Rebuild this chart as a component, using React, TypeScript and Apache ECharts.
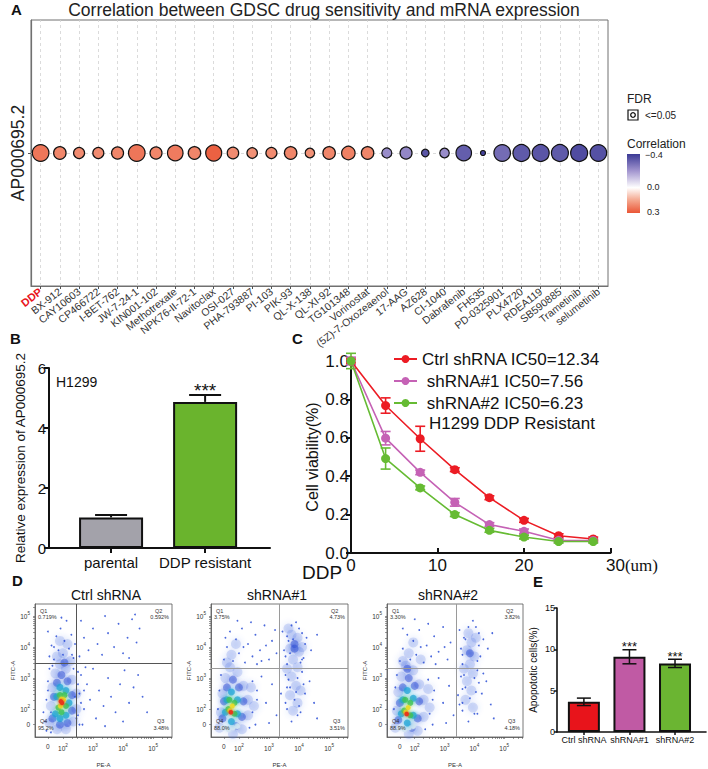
import React, { useEffect, useRef } from 'react';
import * as echarts from 'echarts';

const FONT = "'Liberation Sans', Arial, Helvetica, sans-serif";

// ---------------- Panel A : bubble correlation ----------------
const geneName = 'AP000695.2';
const drugs = ['DDP', 'BX-912', 'CAY10603', 'CP466722', 'I-BET-762', 'JW-7-24-1', 'KIN001-102', 'Methotrexate', 'NPK76-II-72-1', 'Navitoclax', 'OSI-027', 'PHA-793887', 'PI-103', 'PIK-93', 'QL-X-138', 'QL-XI-92', 'TG101348', 'Vorinostat', '(5Z)-7-Oxozeaenol', '17-AAG', 'AZ628', 'CI-1040', 'Dabrafenib', 'FH535', 'PD-0325901', 'PLX4720', 'RDEA119', 'SB590885', 'Trametinib', 'selumetinib'];
const correlation = [0.24, 0.21, 0.2, 0.2, 0.21, 0.24, 0.21, 0.23, 0.21, 0.28, 0.2, 0.19, 0.2, 0.21, 0.19, 0.21, 0.22, 0.21, -0.22, -0.23, -0.34, -0.22, -0.32, -0.38, -0.29, -0.33, -0.34, -0.33, -0.36, -0.35];
const negLog10FDR = [12.3, 8.6, 7.3, 7.3, 8.2, 12.3, 8.2, 11.4, 8.6, 11.8, 7.7, 6.8, 7.3, 8.6, 5.9, 8.6, 9.5, 8.6, 6.4, 8.2, 4.1, 5.9, 11.4, 1.8, 12.3, 12.7, 12.7, 12.7, 12.7, 12.3];
const corrTicks = ['\u22120.4', '0.0', '0.3'];

// ---------------- Panel B : relative expression ----------------
const bCategories = ['parental', 'DDP resistant'];
const bMeans = [1.02, 4.87];
const bErrors = [0.08, 0.23];
const bSignif = ['', '***'];

// ---------------- Panel C : viability curves ----------------
const ddpDose = [0, 4, 8, 12, 16, 20, 24, 28];
const ctrlViability = [1.0, 0.768, 0.595, 0.434, 0.288, 0.17, 0.09, 0.073];
const sh1Viability = [1.0, 0.598, 0.42, 0.264, 0.148, 0.113, 0.066, 0.065];
const sh2Viability = [1.0, 0.492, 0.339, 0.2, 0.118, 0.083, 0.06, 0.06];
const ctrlSD = [0.01, 0.04, 0.065, 0.01, 0.01, 0.01, 0.01, 0.01];
const sh1SD = [0.02, 0.035, 0.012, 0.02, 0.01, 0.012, 0.008, 0.008];
const sh2SD = [0.04, 0.055, 0.01, 0.01, 0.01, 0.01, 0.008, 0.008];
const cNames = ['Ctrl shRNA IC50=12.34', ' shRNA#1 IC50=7.56', ' shRNA#2 IC50=6.23'];

// ---------------- Panel D : flow cytometry (axis units = log10 decades) ----------------
const flowTitles = ['Ctrl shRNA', 'shRNA#1', 'shRNA#2'];
const quadPct = [
  ['0.719%', '0.592%', '3.48%', '95.2%'],
  ['3.75%', '4.73%', '3.51%', '88.0%'],
  ['3.30%', '3.82%', '4.18%', '88.9%'],
];
const gateX = [2.43, 3.35, 3.38];
const gateY = [3.48, 3.32, 3.32];
// [x, y, densityLevel]  (-1 pale, 0 haze .. 5 peak)
const flowCloud1 = [
  [1.55, 1.55, 0], [1.6, 2.1, 0], [1.65, 2.7, 0], [1.75, 3.15, 0], [1.9, 3.45, 0], [2.1, 3.3, 0], [2.3, 2.95, 0], [2.45, 2.5, 0], [2.45, 2.0, 0], [2.35, 1.6, 0], [2.1, 1.35, 0], [1.8, 1.35, 0], [2.0, 3.8, 0], [2.15, 4.1, 0], [1.9, 4.2, 0], [2.25, 3.55, 0], [1.8, 3.7, 0],
  [1.65, 1.7, 1], [1.7, 2.4, 1], [1.8, 2.85, 1], [1.95, 3.1, 1], [2.15, 2.9, 1], [2.3, 2.45, 1], [2.3, 1.95, 1], [2.15, 1.55, 1], [1.9, 1.5, 1], [2.05, 3.5, 1],
  [1.75, 1.85, 2], [1.8, 2.4, 2], [1.9, 2.7, 2], [2.1, 2.6, 2], [2.2, 2.2, 2], [2.1, 1.8, 2], [1.9, 1.7, 2],
  [1.85, 2.05, 3], [1.9, 2.45, 3], [2.05, 2.45, 3], [2.1, 2.1, 3], [1.95, 1.9, 3],
  [1.92, 2.1, 4], [2.02, 2.3, 4], [1.95, 2.32, 4],
  [1.97, 2.2, 5], [1.93, 2.25, 5],
];
const flowSparse1 = [
  [1.55, 3.7], [1.62, 4.05], [1.7, 3.6], [1.78, 4.35], [1.85, 3.9], [1.92, 4.6], [2.0, 3.75], [2.05, 4.2], [2.12, 4.85], [2.2, 3.95], [2.28, 4.4], [2.35, 3.65], [1.5, 4.5], [2.4, 4.1], [1.95, 4.95],
  [2.55, 3.7], [2.7, 4.3], [2.85, 3.9], [3.0, 4.6], [3.15, 4.1], [3.3, 3.75], [3.5, 4.45], [3.7, 4.0], [3.85, 4.75], [4.0, 3.8], [4.15, 4.3], [4.3, 4.9], [4.45, 4.15], [4.55, 4.6], [4.2, 3.65], [3.4, 5.0], [2.6, 4.85], [4.4, 5.05],
  [2.5, 1.8], [2.55, 2.5], [2.6, 3.1], [2.7, 2.0], [2.8, 2.8], [2.9, 2.3], [3.0, 3.3], [3.1, 1.7], [3.2, 2.6], [3.35, 2.1], [3.5, 3.0], [3.6, 2.4], [3.75, 1.9], [3.9, 2.8], [4.05, 3.25], [4.2, 2.2], [4.35, 2.7], [4.5, 3.1], [4.65, 2.4], [4.8, 1.9], [2.65, 1.5], [3.4, 1.45], [4.0, 1.6], [2.75, 3.35],
  [1.4, 1.6], [1.45, 2.3], [1.5, 2.9], [2.6, 2.2], [2.5, 3.2], [1.35, 1.9], [2.7, 2.6], [1.6, 1.25],
  [1.5, 2.6], [1.55, 3.3], [1.65, 3.4], [2.35, 3.3], [2.5, 2.8], [2.55, 1.5], [1.45, 1.3], [1.7, 4.0], [2.3, 3.75], [2.45, 1.7], [1.6, 1.9], [2.4, 2.4],
];
const flowCloud2 = [
  [1.35, 1.4, 0], [1.4, 1.9, 0], [1.45, 2.5, 0], [1.55, 3.0, 0], [1.7, 3.35, 0], [1.95, 3.2, 0], [2.15, 2.75, 0], [2.3, 2.3, 0], [2.3, 1.8, 0], [2.1, 1.35, 0], [1.8, 1.2, 0], [1.75, 3.75, 0], [1.9, 4.1, 0], [2.4, 2.7, 0], [2.5, 2.1, 0], [1.6, 3.5, 0],
  [1.45, 1.7, 1], [1.5, 2.25, 1], [1.6, 2.7, 1], [1.8, 2.95, 1], [2.0, 2.7, 1], [2.15, 2.25, 1], [2.1, 1.75, 1], [1.9, 1.45, 1],
  [1.55, 1.9, 2], [1.6, 2.3, 2], [1.75, 2.55, 2], [1.95, 2.3, 2], [1.95, 1.85, 2], [1.75, 1.6, 2],
  [1.65, 2.0, 3], [1.68, 2.3, 3], [1.85, 2.2, 3], [1.85, 1.85, 3],
  [1.7, 1.95, 4], [1.78, 2.1, 4],
  [1.73, 1.9, 5],
  [1.5, 1.4, -1], [1.65, 1.35, -1], [1.8, 1.4, -1], [1.95, 1.45, -1],
  [3.75, 4.4, 0], [3.85, 4.1, 1], [3.95, 4.3, 0], [3.7, 3.95, 0], [4.0, 3.85, 0], [3.8, 3.6, 0], [3.95, 3.35, 0], [3.75, 3.05, 0], [3.9, 2.75, 0], [3.7, 2.45, 0], [3.95, 2.2, 0], [3.8, 1.95, 0], [3.65, 4.6, 0], [4.1, 4.0, 0], [3.6, 3.3, 0], [4.05, 2.6, 0], [3.85, 3.95, 1],
];
const flowSparse2 = [
  [1.5, 3.6], [1.6, 4.0], [1.7, 4.5], [1.8, 3.55], [1.9, 4.25], [2.0, 3.8], [2.1, 4.6], [2.2, 3.5], [2.3, 4.1], [2.45, 3.7], [2.55, 4.4], [2.7, 3.9], [2.85, 4.7], [3.0, 3.6], [3.1, 4.2], [3.25, 3.8], [2.4, 4.8], [1.95, 4.85], [2.6, 3.45], [2.9, 4.05], [3.2, 4.55], [1.55, 4.3], [2.15, 4.0], [2.75, 3.55],
  [3.45, 4.5], [3.55, 3.7], [3.65, 4.2], [4.0, 4.6], [4.15, 3.65], [4.25, 4.3], [4.4, 3.9], [4.6, 4.4], [3.9, 4.8], [3.6, 3.45], [4.1, 4.45], [3.8, 4.25], [3.7, 3.8], [4.05, 3.5],
  [2.45, 1.9], [2.6, 2.6], [2.75, 3.05], [2.9, 2.2], [3.1, 2.8], [3.25, 1.8], [3.4, 2.5], [3.55, 3.1], [3.6, 2.0], [3.7, 2.7], [3.85, 2.3], [3.95, 3.0], [4.05, 1.9], [4.2, 2.5], [4.35, 2.9], [4.5, 2.2], [4.6, 1.7], [3.75, 1.6], [3.9, 2.55], [3.65, 2.95], [4.0, 2.1], [2.55, 1.5], [3.0, 1.55],
  [1.3, 2.0], [1.35, 2.6], [2.45, 2.9], [2.6, 2.3], [1.4, 3.1], [2.35, 1.4],
  [3.5, 3.9], [3.6, 2.7], [4.1, 3.2], [4.15, 2.8], [3.55, 2.2], [4.2, 4.1], [3.75, 4.7], [3.95, 1.8], [3.6, 4.35], [4.1, 3.6],
];
const flowCloud3 = [
  [1.35, 1.4, 0], [1.4, 1.95, 0], [1.45, 2.55, 0], [1.55, 3.05, 0], [1.7, 3.4, 0], [1.95, 3.25, 0], [2.15, 2.8, 0], [2.3, 2.3, 0], [2.3, 1.75, 0], [2.1, 1.3, 0], [1.8, 1.2, 0], [1.8, 3.8, 0], [1.95, 4.15, 0], [2.45, 2.65, 0], [2.5, 2.05, 0], [1.6, 3.55, 0], [2.2, 3.6, 0],
  [1.45, 1.65, 1], [1.5, 2.2, 1], [1.6, 2.7, 1], [1.8, 3.0, 1], [2.0, 2.75, 1], [2.15, 2.25, 1], [2.1, 1.7, 1], [1.9, 1.4, 1], [1.75, 3.3, 1],
  [1.55, 1.85, 2], [1.6, 2.3, 2], [1.75, 2.6, 2], [1.95, 2.35, 2], [1.95, 1.8, 2], [1.75, 1.55, 2],
  [1.65, 1.95, 3], [1.68, 2.3, 3], [1.85, 2.2, 3], [1.85, 1.8, 3],
  [1.7, 1.9, 4], [1.78, 2.05, 4],
  [1.73, 1.84, 5],
  [1.5, 1.4, -1], [1.65, 1.35, -1], [1.8, 1.4, -1], [1.95, 1.45, -1],
  [3.8, 4.45, 0], [3.9, 4.15, 0], [3.75, 3.9, 0], [4.0, 3.7, 0], [3.85, 3.45, 0], [3.95, 3.15, 0], [3.75, 2.9, 0], [3.9, 2.6, 0], [3.7, 2.3, 0], [3.95, 2.05, 0], [3.85, 3.8, 1], [4.05, 4.3, 0], [3.65, 3.3, 0],
];
const flowSparse3 = [
  [1.5, 3.55], [1.6, 3.95], [1.75, 4.4], [1.85, 3.6], [1.95, 4.2], [2.05, 3.75], [2.15, 4.55], [2.3, 3.5], [2.4, 4.05], [2.55, 3.7], [2.65, 4.35], [2.8, 3.85], [2.95, 4.65], [3.1, 3.6], [3.2, 4.15], [2.45, 4.75], [2.0, 4.9], [2.7, 3.45], [3.0, 4.0], [1.6, 4.6], [2.2, 4.0],
  [3.5, 4.55], [3.6, 3.75], [3.7, 4.25], [4.05, 4.65], [4.2, 3.7], [4.3, 4.25], [4.45, 3.95], [4.6, 4.45], [3.95, 4.85], [3.6, 3.45], [4.15, 4.45],
  [2.5, 1.85], [2.65, 2.6], [2.8, 3.0], [2.95, 2.2], [3.15, 2.75], [3.3, 1.8], [3.45, 2.45], [3.55, 3.05], [3.6, 1.95], [3.7, 2.7], [3.85, 2.35], [4.0, 3.0], [4.1, 1.85], [4.25, 2.5], [4.4, 2.9], [4.55, 2.15], [4.65, 1.7], [3.8, 1.6], [4.05, 2.55], [3.65, 3.1], [2.6, 1.5], [3.05, 1.55], [4.3, 3.15], [3.5, 2.15],
  [1.3, 2.0], [1.35, 2.7], [2.45, 2.95], [2.6, 2.3], [1.4, 3.1], [2.35, 1.35],
  [3.55, 3.95], [3.6, 2.65], [4.1, 3.25], [4.15, 2.85], [3.6, 2.2], [4.15, 4.05], [3.8, 4.65], [4.0, 1.85], [3.65, 4.3], [4.1, 3.55],
];
const flowClouds = [flowCloud1, flowCloud2, flowCloud3];
const flowSparse = [flowSparse1, flowSparse2, flowSparse3];
const flowLabelValues = [1.5, 2, 3, 4, 5];

// ---------------- Panel E : apoptosis ----------------
const eCategories = ['Ctrl shRNA', 'shRNA#1', 'shRNA#2'];
const eMeans = [3.65, 9.1, 8.3];
const eErrors = [0.45, 0.85, 0.5];
const eSignif = ['', '***', '***'];

// ---------------- helpers ----------------
function hexToRgb(h: string) {
  const n = parseInt(h.slice(1), 16);
  return [(n >> 16) & 255, (n >> 8) & 255, n & 255];
}
function mixHex(a: string, b: string, t: number) {
  const A = hexToRgb(a), B = hexToRgb(b);
  const c = A.map((v, i) => Math.round(v + (B[i] - v) * t));
  return `rgb(${c[0]},${c[1]},${c[2]})`;
}
const NEG_MID = '#a295cf', NEG_END = '#3b3a95', POS_MID = '#f4a68d', POS_END = '#ea5636';
function corrColor(v: number) {
  if (v < 0) {
    const t = Math.min(1, -v / 0.4);
    return t < 0.5 ? mixHex('#ffffff', NEG_MID, t / 0.5) : mixHex(NEG_MID, NEG_END, (t - 0.5) / 0.5);
  }
  const t = Math.min(1, v / 0.3);
  return t < 0.5 ? mixHex('#ffffff', POS_MID, t / 0.5) : mixHex(POS_MID, POS_END, (t - 0.5) / 0.5);
}
const bubbleSize = (v: number) => 3 + 1.1 * v;

const CLOUD_STYLE: Record<string, { c: string; s: number; o: number; b: number }> = {
  '-1': { c: '#d3e5f1', s: 5.5, o: 0.95, b: 3 },
  '0': { c: '#4a70e2', s: 10, o: 0.2, b: 6 },
  '1': { c: '#2549d2', s: 8, o: 0.45, b: 5 },
  '2': { c: '#18a3d6', s: 7, o: 0.7, b: 5 },
  '3': { c: '#3dc259', s: 6, o: 0.8, b: 4 },
  '4': { c: '#e9dc28', s: 5, o: 0.9, b: 3 },
  '5': { c: '#e8381e', s: 4.5, o: 1, b: 3 },
};
const CLOUD_ORDER = [0, 1, -1, 2, 3, 4, 5];

function decadeTicks(min: number, max: number) {
  const out: number[] = [1.5];
  for (let d = 2; d <= 5; d++) {
    for (let k = 1; k <= 9; k++) {
      const v = d + Math.log10(k);
      if (v >= min && v <= max) out.push(v);
    }
  }
  return out;
}
const decadeRich = {
  b: { fontSize: 6.5, color: '#333', fontFamily: FONT },
  s: { fontSize: 4.6, color: '#333', fontFamily: FONT, verticalAlign: 'top', padding: [0, 0, 5, 0] },
};
const decadeFmt = (v: number) => (v < 1.9 ? '{b|0}' : `{b|10}{s|${Math.round(v)}}`);

function errSeries(opts: any) {
  const { xIdx, xs, ys, es, capW, both, color, signif, sigSize, sigGap, lw, z } = opts;
  return {
    type: 'custom',
    xAxisIndex: xIdx,
    yAxisIndex: xIdx,
    z,
    silent: true,
    encode: { x: 0, y: 1 },
    data: xs.map((x: number, i: number) => [x, ys[i], es[i]]),
    renderItem: (params: any, api: any) => {
      const x = api.value(0), y = api.value(1), e = api.value(2);
      const pT = api.coord([x, y + e]);
      const pB = api.coord([x, both ? y - e : y]);
      const style = { stroke: color, lineWidth: lw };
      const ch: any[] = [
        { type: 'line', shape: { x1: pT[0], y1: pT[1], x2: pB[0], y2: pB[1] }, style },
        { type: 'line', shape: { x1: pT[0] - capW / 2, y1: pT[1], x2: pT[0] + capW / 2, y2: pT[1] }, style },
      ];
      if (both) ch.push({ type: 'line', shape: { x1: pB[0] - capW / 2, y1: pB[1], x2: pB[0] + capW / 2, y2: pB[1] }, style });
      const sig = signif ? signif[params.dataIndex] : '';
      if (sig) {
        ch.push({
          type: 'text',
          style: { text: sig, x: pT[0], y: pT[1] - sigGap, fill: '#111', fontSize: sigSize, fontFamily: FONT, align: 'center', verticalAlign: 'middle', textAlign: 'center', textVerticalAlign: 'middle' },
        });
      }
      return { type: 'group', children: ch };
    },
  };
}

function txt(text: string, x: number, y: number, size: number, extra: any = {}) {
  return {
    type: 'text',
    x,
    y,
    z: 20,
    silent: true,
    style: {
      text,
      fill: extra.fill || '#111',
      fontSize: size,
      fontFamily: extra.fontFamily || FONT,
      fontWeight: extra.fontWeight || 'normal',
      align: extra.align || 'left',
      textAlign: extra.align || 'left',
      verticalAlign: 'middle',
      textVerticalAlign: 'middle',
    },
  };
}

const App: React.FC = () => {
  const ref = useRef<HTMLDivElement>(null);
  useEffect(() => {
    document.body.style.margin = '0';
    if (!ref.current) return;
    const chart = echarts.init(ref.current, undefined, { renderer: 'svg' });

    const flowLeft = [35, 211, 387];
    const flowWidth = [137, 137, 136];
    const flowTop = 604, flowH = 133;
    const gateColor = ['#555555', '#9a9a9a', '#9a9a9a'];

    const grids: any[] = [
      { left: 31, top: 20, width: 577, height: 266, show: true, borderColor: '#707070', borderWidth: 1 },
      { left: 49, top: 368, width: 221, height: 180 },
      { left: 351, top: 361, width: 259.5, height: 192 },
      ...flowLeft.map((l, i) => ({ left: l, top: flowTop, width: flowWidth[i], height: flowH, show: true, borderColor: '#555', borderWidth: 0.8 })),
      { left: 557, top: 608, width: 149, height: 124 },
    ];

    const blackAxis = (w: number) => ({ show: true, onZero: false, lineStyle: { color: '#111', width: w } });

    const xAxes: any[] = [
      {
        gridIndex: 0, type: 'category', data: drugs,
        axisLine: { show: true, lineStyle: { color: '#707070', width: 1.2 } },
        axisTick: { show: true, alignWithLabel: true, length: 3, lineStyle: { color: '#555' } },
        axisLabel: {
          interval: 0, rotate: 38, fontSize: 10.5, color: '#333', margin: 4, fontFamily: FONT,
          formatter: (v: string) => (v === 'DDP' ? `{r|${v}}` : v),
          rich: { r: { color: '#E8141C', fontWeight: 'bold', fontSize: 11, fontFamily: FONT } },
        },
        splitLine: { show: false },
      },
      {
        gridIndex: 1, type: 'value', min: -0.66, max: 1.69,
        axisLine: blackAxis(2),
        axisTick: { show: true, customValues: [0, 1], length: 5, lineStyle: { color: '#111', width: 2 } },
        axisLabel: { customValues: [0, 1], formatter: (v: number) => bCategories[Math.round(v)] || '', fontSize: 15, color: '#111', margin: 7, fontFamily: FONT },
        splitLine: { show: false },
      },
      {
        gridIndex: 2, type: 'value', min: 0, max: 30, interval: 10,
        axisLine: blackAxis(2),
        axisTick: { show: true, inside: true, length: 5, lineStyle: { color: '#111', width: 2 } },
        axisLabel: {
          fontSize: 17, color: '#111', margin: 4, fontFamily: FONT,
          formatter: (v: number) => (v === 30 ? '{a|30}{u|(um)}' : String(v)),
          rich: {
            a: { fontSize: 17, color: '#111', fontFamily: FONT, padding: [0, 0, 0, 43] },
            u: { fontSize: 17, color: '#111', fontFamily: "'Liberation Serif', serif" },
          },
        },
        splitLine: { show: false },
      },
      ...flowLeft.map((_, i) => ({
        gridIndex: 3 + i, type: 'value', min: 1.07, max: 5.63,
        axisLine: { show: true, onZero: false, lineStyle: { color: '#555', width: 0.8 } },
        axisTick: { show: true, customValues: decadeTicks(1.07, 5.63), length: 2, lineStyle: { color: '#555', width: 0.6 } },
        axisLabel: { customValues: flowLabelValues, formatter: decadeFmt, rich: decadeRich, fontSize: 6.5, color: '#333', margin: 6 },
        splitLine: { show: false },
        name: 'PE-A', nameLocation: 'middle', nameGap: 25, nameTextStyle: { fontSize: 6, color: '#333', fontFamily: FONT },
      })),
      {
        gridIndex: 6, type: 'value', min: -0.59, max: 2.68,
        axisLine: blackAxis(1.6),
        axisTick: { show: true, customValues: [0, 1, 2], length: 3, lineStyle: { color: '#111', width: 1.5 } },
        axisLabel: { customValues: [0, 1, 2], formatter: (v: number) => eCategories[Math.round(v)] || '', fontSize: 9, color: '#111', margin: 3, fontFamily: FONT },
        splitLine: { show: false },
      },
    ];

    const yAxes: any[] = [
      {
        gridIndex: 0, type: 'category', data: [geneName],
        axisLine: { show: true, lineStyle: { color: '#707070', width: 1.2 } },
        axisTick: { show: true, alignWithLabel: true, length: 3, lineStyle: { color: '#555' } },
        axisLabel: { rotate: 90, fontSize: 17.5, color: '#222', margin: 4, fontFamily: FONT },
        splitLine: { show: false },
      },
      {
        gridIndex: 1, type: 'value', min: 0, max: 6, interval: 2,
        axisLine: blackAxis(2),
        axisTick: { show: true, length: 5, lineStyle: { color: '#111', width: 2 } },
        axisLabel: { fontSize: 15, color: '#111', margin: 3, fontFamily: FONT },
        splitLine: { show: false },
        name: 'Relative expression of AP000695.2', nameLocation: 'middle', nameGap: 22, nameRotate: 90,
        nameTextStyle: { fontSize: 13.5, color: '#111', fontFamily: FONT },
      },
      {
        gridIndex: 2, type: 'value', min: 0, max: 1, interval: 0.2,
        axisLine: blackAxis(2),
        axisTick: { show: true, length: 5, lineStyle: { color: '#111', width: 2 } },
        axisLabel: { fontSize: 17, color: '#111', margin: 2, fontFamily: FONT, formatter: (v: number) => v.toFixed(1) },
        splitLine: { show: false },
        name: 'Cell viability(%)', nameLocation: 'middle', nameGap: 31, nameRotate: 90,
        nameTextStyle: { fontSize: 16, color: '#111', fontFamily: FONT },
      },
      ...flowLeft.map((_, i) => ({
        gridIndex: 3 + i, type: 'value', min: 1.1, max: 5.39,
        axisLine: { show: true, onZero: false, lineStyle: { color: '#555', width: 0.8 } },
        axisTick: { show: true, customValues: decadeTicks(1.1, 5.39), length: 2, lineStyle: { color: '#555', width: 0.6 } },
        axisLabel: { customValues: flowLabelValues, formatter: decadeFmt, rich: decadeRich, fontSize: 6.5, color: '#333', margin: 5 },
        splitLine: { show: false },
        name: 'FITC-A', nameLocation: 'middle', nameGap: 19, nameRotate: 90, nameTextStyle: { fontSize: 6, color: '#333', fontFamily: FONT },
      })),
      {
        gridIndex: 6, type: 'value', min: 0, max: 15, interval: 5,
        axisLine: blackAxis(1.6),
        axisTick: { show: true, length: 3, lineStyle: { color: '#111', width: 1.5 } },
        axisLabel: { fontSize: 9, color: '#111', margin: 2, fontFamily: FONT },
        splitLine: { show: false },
        name: 'Apopototic cells(%)', nameLocation: 'middle', nameGap: 19, nameRotate: 90,
        nameTextStyle: { fontSize: 10, color: '#111', fontFamily: FONT },
      },
    ];

    const cColors = ['#EC1C24', '#C562B5', '#66BB33'];
    const cVals = [ctrlViability, sh1Viability, sh2Viability];
    const cSDs = [ctrlSD, sh1SD, sh2SD];
    const bColors = ['#A3A2AA', '#6AB42D'];
    const eColors = ['#E8141B', '#C05AA4', '#6BB532'];

    const series: any[] = [
      {
        type: 'scatter', xAxisIndex: 0, yAxisIndex: 0, data: [[drugs[0], geneName]], symbolSize: 0, silent: true, z: 1,
        markLine: {
          z: 1, silent: true, symbol: 'none', label: { show: false },
          lineStyle: { type: [3, 3], color: '#d2d2d2', width: 0.8 },
          data: [...drugs.map((d) => ({ xAxis: d })), { yAxis: geneName }],
        },
      },
      {
        type: 'scatter', xAxisIndex: 0, yAxisIndex: 0, z: 6,
        data: drugs.map((d, i) => ({ value: [d, geneName, correlation[i], negLog10FDR[i]], itemStyle: { color: corrColor(correlation[i]) } })),
        symbolSize: (v: any) => bubbleSize(v[3]),
        itemStyle: { borderColor: '#111', borderWidth: 1.2, opacity: 1 },
      },
      {
        type: 'bar', xAxisIndex: 1, yAxisIndex: 1, barWidth: 64, z: 2,
        data: bMeans.map((m, i) => ({ value: [i, m], itemStyle: { color: bColors[i] } })),
        itemStyle: { borderColor: '#111', borderWidth: 2 },
      },
      errSeries({ xIdx: 1, xs: [0, 1], ys: bMeans, es: bErrors, capW: 32, both: false, color: '#111', signif: bSignif, sigSize: 19, sigGap: 5, lw: 2, z: 4 }),
      ...cVals.map((vals, k) => errSeries({ xIdx: 2, xs: ddpDose, ys: vals, es: cSDs[k], capW: 10, both: true, color: cColors[k], lw: 1.6, z: 2 })),
      ...cVals.map((vals, k) => ({
        type: 'line', name: cNames[k], xAxisIndex: 2, yAxisIndex: 2, z: 3,
        data: ddpDose.map((x, i) => [x, vals[i]]),
        symbol: 'circle', symbolSize: 9, showSymbol: true,
        lineStyle: { color: cColors[k], width: 1.6 }, itemStyle: { color: cColors[k] },
      })),
    ];

    flowLeft.forEach((_, i) => {
      const cloud = flowClouds[i];
      const sorted: any[] = [];
      CLOUD_ORDER.forEach((lvl) => cloud.forEach((p) => { if (p[2] === lvl) sorted.push(p); }));
      series.push({
        type: 'scatter', xAxisIndex: 3 + i, yAxisIndex: 3 + i, silent: true, z: 2,
        data: sorted.map((p) => {
          const st = CLOUD_STYLE[String(p[2])];
          return { value: [p[0], p[1]], symbolSize: st.s, itemStyle: { color: st.c, opacity: st.o, shadowBlur: st.b, shadowColor: st.c } };
        }),
      });
      series.push({
        type: 'scatter', xAxisIndex: 3 + i, yAxisIndex: 3 + i, silent: true, z: 3,
        data: flowSparse[i], symbolSize: 1.8, itemStyle: { color: '#2a4ed6', opacity: 0.85 },
        markLine: {
          silent: true, symbol: 'none', label: { show: false },
          lineStyle: { color: gateColor[i], width: 1, type: 'solid' },
          data: [{ xAxis: gateX[i] }, { yAxis: gateY[i] }],
        },
      });
    });

    series.push({
      type: 'bar', xAxisIndex: 6, yAxisIndex: 6, barWidth: 32, z: 2,
      data: eMeans.map((m, i) => ({ value: [i, m], itemStyle: { color: eColors[i] } })),
      itemStyle: { borderColor: '#111', borderWidth: 2 },
    });
    series.push(errSeries({ xIdx: 6, xs: [0, 1, 2], ys: eMeans, es: eErrors, capW: 14, both: true, color: '#111', signif: eSignif, sigSize: 13, sigGap: 3, lw: 1.5, z: 4 }));

    const graphics: any[] = [
      txt('A', 11, 9, 15, { fontWeight: 'bold' }),
      txt('Correlation between GDSC drug sensitivity and mRNA expression', 324, 10, 17.5, { align: 'center', fill: '#222' }),
      txt('FDR', 627, 99, 12, { fill: '#222' }),
      { type: 'rect', shape: { x: 628, y: 110, width: 10, height: 10 }, style: { fill: '#fff', stroke: '#111', lineWidth: 1.2 }, silent: true },
      { type: 'circle', shape: { cx: 633, cy: 115, r: 2.3 }, style: { fill: '#fff', stroke: '#111', lineWidth: 1.3 }, silent: true },
      txt('<=0.05', 645, 115.5, 10, { fill: '#222' }),
      txt('Correlation', 627, 144, 12, { fill: '#222' }),
      {
        type: 'rect', shape: { x: 627, y: 154, width: 13, height: 59 }, silent: true,
        style: {
          fill: new echarts.graphic.LinearGradient(0, 0, 0, 1, [
            { offset: 0, color: NEG_END },
            { offset: 0.2857, color: NEG_MID },
            { offset: 0.5714, color: '#ffffff' },
            { offset: 0.7857, color: POS_MID },
            { offset: 1, color: POS_END },
          ]),
        },
      },
      txt(corrTicks[0], 645, 155, 9, { fill: '#222' }),
      txt(corrTicks[1], 647, 187, 9, { fill: '#222' }),
      txt(corrTicks[2], 647, 212, 9, { fill: '#222' }),
      txt('B', 10, 338, 15, { fontWeight: 'bold' }),
      txt('H1299', 56, 382, 14),
      txt('C', 292, 338, 15, { fontWeight: 'bold' }),
      txt('H1299 DDP Resistant', 429, 423, 17),
      txt('DDP', 302, 572, 19),
      txt('D', 12, 580, 15, { fontWeight: 'bold' }),
      txt('E', 533, 581, 15, { fontWeight: 'bold' }),
    ];
    const titleX = [106, 277, 448];
    flowLeft.forEach((l, i) => {
      const r = l + flowWidth[i];
      const b = flowTop + flowH;
      const q = quadPct[i];
      graphics.push(txt(flowTitles[i], titleX[i], 595, 14, { align: 'center' }));
      graphics.push(txt('Q1', l + 5, flowTop + 7, 5.5, { fill: '#333' }));
      graphics.push(txt(q[0], l + 3, flowTop + 13, 5.5, { fill: '#333' }));
      graphics.push(txt('Q2', r - 17, flowTop + 7, 5.5, { fill: '#333' }));
      graphics.push(txt(q[1], r - 3, flowTop + 13, 5.5, { fill: '#333', align: 'right' }));
      graphics.push(txt('Q4', l + 5, b - 16, 5.5, { fill: '#333' }));
      graphics.push(txt(q[3], l + 3, b - 9.5, 5.5, { fill: '#333' }));
      graphics.push(txt('Q3', r - 15, b - 16, 5.5, { fill: '#333' }));
      graphics.push(txt(q[2], r - 3, b - 9.5, 5.5, { fill: '#333', align: 'right' }));
    });

    chart.setOption({
      animation: false,
      backgroundColor: '#ffffff',
      textStyle: { fontFamily: FONT },
      grid: grids,
      xAxis: xAxes,
      yAxis: yAxes,
      legend: {
        show: true, data: cNames, orient: 'vertical', left: 388, top: 345,
        itemWidth: 23, itemHeight: 10, itemGap: 4, selectedMode: false,
        textStyle: { fontSize: 17, color: '#111', fontFamily: FONT, lineHeight: 18 },
      },
      series,
      graphic: graphics,
    });
    return () => chart.dispose();
  }, []);
  return <div ref={ref} style={{ position: 'absolute', left: 0, top: 0, width: 708, height: 769 }} />;
};

export default App;
